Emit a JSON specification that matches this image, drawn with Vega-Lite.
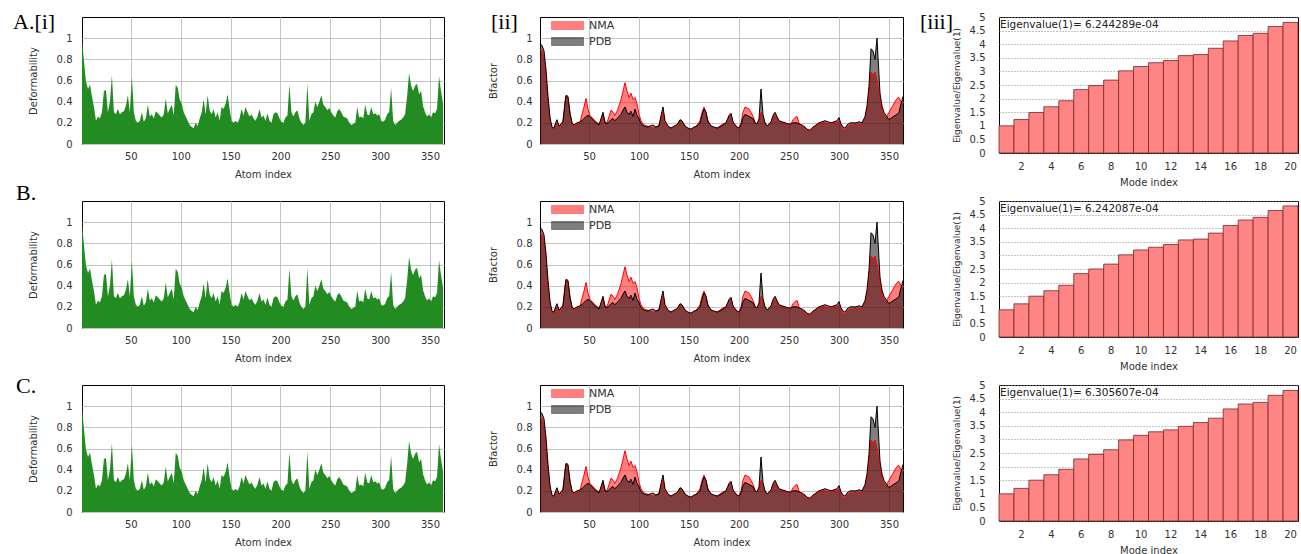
{
"$schema": "https://vega.github.io/schema/vega-lite/v6.json",
"background": "white",
"padding": {"left": 12, "top": 10, "right": 2, "bottom": 2},
"datasets": {
"def": [{"a":1,"v":1.0},{"a":3,"v":0.78},{"a":5,"v":0.59},{"a":7,"v":0.52},{"a":9,"v":0.56},{"a":11,"v":0.45},{"a":13,"v":0.35},{"a":15,"v":0.22},{"a":17,"v":0.26},{"a":19,"v":0.24},{"a":21,"v":0.3},{"a":23,"v":0.5},{"a":25,"v":0.51},{"a":27,"v":0.3},{"a":29,"v":0.4},{"a":31,"v":0.65},{"a":33,"v":0.3},{"a":35,"v":0.28},{"a":37,"v":0.33},{"a":39,"v":0.28},{"a":41,"v":0.3},{"a":43,"v":0.31},{"a":45,"v":0.36},{"a":47,"v":0.46},{"a":49,"v":0.3},{"a":51,"v":0.64},{"a":53,"v":0.3},{"a":55,"v":0.22},{"a":57,"v":0.2},{"a":59,"v":0.22},{"a":61,"v":0.3},{"a":63,"v":0.21},{"a":65,"v":0.24},{"a":67,"v":0.37},{"a":69,"v":0.26},{"a":71,"v":0.28},{"a":73,"v":0.24},{"a":75,"v":0.31},{"a":77,"v":0.29},{"a":79,"v":0.27},{"a":81,"v":0.25},{"a":83,"v":0.28},{"a":85,"v":0.43},{"a":87,"v":0.29},{"a":89,"v":0.33},{"a":91,"v":0.37},{"a":93,"v":0.27},{"a":95,"v":0.56},{"a":97,"v":0.53},{"a":99,"v":0.42},{"a":101,"v":0.38},{"a":103,"v":0.3},{"a":105,"v":0.26},{"a":107,"v":0.22},{"a":109,"v":0.18},{"a":111,"v":0.16},{"a":113,"v":0.15},{"a":115,"v":0.2},{"a":117,"v":0.17},{"a":119,"v":0.24},{"a":121,"v":0.3},{"a":123,"v":0.42},{"a":125,"v":0.28},{"a":127,"v":0.46},{"a":129,"v":0.32},{"a":131,"v":0.28},{"a":133,"v":0.33},{"a":135,"v":0.25},{"a":137,"v":0.3},{"a":139,"v":0.22},{"a":141,"v":0.35},{"a":143,"v":0.33},{"a":145,"v":0.38},{"a":147,"v":0.47},{"a":149,"v":0.33},{"a":151,"v":0.22},{"a":153,"v":0.2},{"a":155,"v":0.22},{"a":157,"v":0.2},{"a":159,"v":0.24},{"a":161,"v":0.33},{"a":163,"v":0.27},{"a":165,"v":0.35},{"a":167,"v":0.3},{"a":169,"v":0.26},{"a":171,"v":0.28},{"a":173,"v":0.24},{"a":175,"v":0.22},{"a":177,"v":0.26},{"a":179,"v":0.33},{"a":181,"v":0.25},{"a":183,"v":0.27},{"a":185,"v":0.22},{"a":187,"v":0.29},{"a":189,"v":0.22},{"a":191,"v":0.2},{"a":193,"v":0.28},{"a":195,"v":0.3},{"a":197,"v":0.29},{"a":199,"v":0.24},{"a":201,"v":0.21},{"a":203,"v":0.2},{"a":205,"v":0.25},{"a":207,"v":0.27},{"a":209,"v":0.56},{"a":211,"v":0.3},{"a":213,"v":0.26},{"a":215,"v":0.3},{"a":217,"v":0.32},{"a":219,"v":0.24},{"a":221,"v":0.2},{"a":223,"v":0.18},{"a":225,"v":0.2},{"a":227,"v":0.57},{"a":229,"v":0.22},{"a":231,"v":0.28},{"a":233,"v":0.3},{"a":235,"v":0.4},{"a":237,"v":0.35},{"a":239,"v":0.4},{"a":241,"v":0.46},{"a":243,"v":0.37},{"a":245,"v":0.35},{"a":247,"v":0.32},{"a":249,"v":0.34},{"a":251,"v":0.3},{"a":253,"v":0.27},{"a":255,"v":0.25},{"a":257,"v":0.31},{"a":259,"v":0.33},{"a":261,"v":0.3},{"a":263,"v":0.26},{"a":265,"v":0.25},{"a":267,"v":0.24},{"a":269,"v":0.2},{"a":271,"v":0.18},{"a":273,"v":0.19},{"a":275,"v":0.2},{"a":277,"v":0.35},{"a":279,"v":0.25},{"a":281,"v":0.26},{"a":283,"v":0.24},{"a":285,"v":0.37},{"a":287,"v":0.28},{"a":289,"v":0.27},{"a":291,"v":0.35},{"a":293,"v":0.28},{"a":295,"v":0.29},{"a":297,"v":0.27},{"a":299,"v":0.28},{"a":301,"v":0.22},{"a":303,"v":0.21},{"a":305,"v":0.23},{"a":307,"v":0.28},{"a":309,"v":0.3},{"a":311,"v":0.53},{"a":313,"v":0.22},{"a":315,"v":0.18},{"a":317,"v":0.2},{"a":319,"v":0.22},{"a":321,"v":0.23},{"a":323,"v":0.25},{"a":325,"v":0.28},{"a":327,"v":0.45},{"a":329,"v":0.67},{"a":331,"v":0.55},{"a":333,"v":0.5},{"a":335,"v":0.55},{"a":337,"v":0.57},{"a":339,"v":0.47},{"a":341,"v":0.5},{"a":343,"v":0.36},{"a":345,"v":0.3},{"a":347,"v":0.26},{"a":349,"v":0.28},{"a":351,"v":0.25},{"a":353,"v":0.3},{"a":355,"v":0.29},{"a":357,"v":0.33},{"a":359,"v":0.64},{"a":361,"v":0.5},{"a":363,"v":0.38}],
"bf": [
{"a":1,"s":"NMA","v":0.9},{"a":3,"s":"NMA","v":0.88},{"a":5,"s":"NMA","v":0.82},{"a":7,"s":"NMA","v":0.65},{"a":9,"s":"NMA","v":0.4},{"a":11,"s":"NMA","v":0.22},{"a":13,"s":"NMA","v":0.15},{"a":15,"s":"NMA","v":0.15},{"a":17,"s":"NMA","v":0.19},{"a":18,"s":"NMA","v":0.2},{"a":20,"s":"NMA","v":0.16},{"a":22,"s":"NMA","v":0.18},{"a":24,"s":"NMA","v":0.22},{"a":26,"s":"NMA","v":0.4},{"a":27,"s":"NMA","v":0.45},{"a":29,"s":"NMA","v":0.44},{"a":31,"s":"NMA","v":0.3},{"a":33,"s":"NMA","v":0.2},{"a":35,"s":"NMA","v":0.17},{"a":38,"s":"NMA","v":0.19},{"a":41,"s":"NMA","v":0.2},{"a":43,"s":"NMA","v":0.28},{"a":45,"s":"NMA","v":0.35},{"a":47,"s":"NMA","v":0.43},{"a":49,"s":"NMA","v":0.33},{"a":51,"s":"NMA","v":0.27},{"a":54,"s":"NMA","v":0.24},{"a":57,"s":"NMA","v":0.21},{"a":60,"s":"NMA","v":0.19},{"a":62,"s":"NMA","v":0.22},{"a":64,"s":"NMA","v":0.28},{"a":66,"s":"NMA","v":0.21},{"a":68,"s":"NMA","v":0.2},{"a":70,"s":"NMA","v":0.26},{"a":72,"s":"NMA","v":0.32},{"a":74,"s":"NMA","v":0.3},{"a":76,"s":"NMA","v":0.27},{"a":78,"s":"NMA","v":0.31},{"a":80,"s":"NMA","v":0.36},{"a":82,"s":"NMA","v":0.42},{"a":84,"s":"NMA","v":0.5},{"a":86,"s":"NMA","v":0.58},{"a":88,"s":"NMA","v":0.5},{"a":90,"s":"NMA","v":0.44},{"a":92,"s":"NMA","v":0.48},{"a":94,"s":"NMA","v":0.42},{"a":96,"s":"NMA","v":0.44},{"a":98,"s":"NMA","v":0.38},{"a":100,"s":"NMA","v":0.28},{"a":102,"s":"NMA","v":0.22},{"a":105,"s":"NMA","v":0.18},{"a":108,"s":"NMA","v":0.17},{"a":111,"s":"NMA","v":0.16},{"a":114,"s":"NMA","v":0.15},{"a":117,"s":"NMA","v":0.16},{"a":120,"s":"NMA","v":0.18},{"a":122,"s":"NMA","v":0.24},{"a":124,"s":"NMA","v":0.3},{"a":126,"s":"NMA","v":0.2},{"a":129,"s":"NMA","v":0.16},{"a":132,"s":"NMA","v":0.15},{"a":135,"s":"NMA","v":0.16},{"a":138,"s":"NMA","v":0.18},{"a":141,"s":"NMA","v":0.22},{"a":143,"s":"NMA","v":0.21},{"a":146,"s":"NMA","v":0.17},{"a":149,"s":"NMA","v":0.14},{"a":152,"s":"NMA","v":0.14},{"a":155,"s":"NMA","v":0.15},{"a":158,"s":"NMA","v":0.18},{"a":161,"s":"NMA","v":0.22},{"a":163,"s":"NMA","v":0.3},{"a":165,"s":"NMA","v":0.35},{"a":167,"s":"NMA","v":0.3},{"a":169,"s":"NMA","v":0.22},{"a":172,"s":"NMA","v":0.17},{"a":175,"s":"NMA","v":0.15},{"a":178,"s":"NMA","v":0.15},{"a":181,"s":"NMA","v":0.17},{"a":184,"s":"NMA","v":0.19},{"a":187,"s":"NMA","v":0.2},{"a":190,"s":"NMA","v":0.26},{"a":192,"s":"NMA","v":0.28},{"a":194,"s":"NMA","v":0.2},{"a":197,"s":"NMA","v":0.16},{"a":200,"s":"NMA","v":0.15},{"a":202,"s":"NMA","v":0.2},{"a":204,"s":"NMA","v":0.3},{"a":206,"s":"NMA","v":0.35},{"a":208,"s":"NMA","v":0.34},{"a":210,"s":"NMA","v":0.33},{"a":212,"s":"NMA","v":0.3},{"a":214,"s":"NMA","v":0.26},{"a":216,"s":"NMA","v":0.21},{"a":218,"s":"NMA","v":0.19},{"a":220,"s":"NMA","v":0.22},{"a":222,"s":"NMA","v":0.3},{"a":224,"s":"NMA","v":0.25},{"a":226,"s":"NMA","v":0.2},{"a":228,"s":"NMA","v":0.17},{"a":230,"s":"NMA","v":0.18},{"a":232,"s":"NMA","v":0.21},{"a":234,"s":"NMA","v":0.25},{"a":236,"s":"NMA","v":0.28},{"a":238,"s":"NMA","v":0.24},{"a":240,"s":"NMA","v":0.21},{"a":243,"s":"NMA","v":0.2},{"a":246,"s":"NMA","v":0.2},{"a":249,"s":"NMA","v":0.18},{"a":252,"s":"NMA","v":0.19},{"a":254,"s":"NMA","v":0.23},{"a":256,"s":"NMA","v":0.25},{"a":258,"s":"NMA","v":0.26},{"a":260,"s":"NMA","v":0.2},{"a":263,"s":"NMA","v":0.17},{"a":266,"s":"NMA","v":0.15},{"a":268,"s":"NMA","v":0.13},{"a":271,"s":"NMA","v":0.12},{"a":274,"s":"NMA","v":0.15},{"a":277,"s":"NMA","v":0.17},{"a":280,"s":"NMA","v":0.19},{"a":283,"s":"NMA","v":0.2},{"a":286,"s":"NMA","v":0.2},{"a":289,"s":"NMA","v":0.19},{"a":292,"s":"NMA","v":0.19},{"a":295,"s":"NMA","v":0.2},{"a":298,"s":"NMA","v":0.2},{"a":300,"s":"NMA","v":0.22},{"a":302,"s":"NMA","v":0.17},{"a":304,"s":"NMA","v":0.14},{"a":306,"s":"NMA","v":0.13},{"a":308,"s":"NMA","v":0.16},{"a":311,"s":"NMA","v":0.18},{"a":314,"s":"NMA","v":0.18},{"a":317,"s":"NMA","v":0.19},{"a":320,"s":"NMA","v":0.18},{"a":323,"s":"NMA","v":0.19},{"a":326,"s":"NMA","v":0.24},{"a":328,"s":"NMA","v":0.32},{"a":330,"s":"NMA","v":0.48},{"a":332,"s":"NMA","v":0.68},{"a":334,"s":"NMA","v":0.65},{"a":336,"s":"NMA","v":0.68},{"a":338,"s":"NMA","v":0.6},{"a":339,"s":"NMA","v":0.55},{"a":341,"s":"NMA","v":0.42},{"a":343,"s":"NMA","v":0.32},{"a":345,"s":"NMA","v":0.27},{"a":347,"s":"NMA","v":0.25},{"a":350,"s":"NMA","v":0.3},{"a":353,"s":"NMA","v":0.35},{"a":356,"s":"NMA","v":0.4},{"a":358,"s":"NMA","v":0.43},{"a":360,"s":"NMA","v":0.44},{"a":362,"s":"NMA","v":0.4},{"a":364,"s":"NMA","v":0.38},
{"a":1,"s":"PDB","v":0.95},{"a":3,"s":"PDB","v":0.93},{"a":5,"s":"PDB","v":0.88},{"a":7,"s":"PDB","v":0.7},{"a":9,"s":"PDB","v":0.45},{"a":11,"s":"PDB","v":0.25},{"a":13,"s":"PDB","v":0.16},{"a":15,"s":"PDB","v":0.15},{"a":17,"s":"PDB","v":0.21},{"a":18,"s":"PDB","v":0.23},{"a":20,"s":"PDB","v":0.17},{"a":22,"s":"PDB","v":0.19},{"a":24,"s":"PDB","v":0.21},{"a":26,"s":"PDB","v":0.38},{"a":27,"s":"PDB","v":0.46},{"a":29,"s":"PDB","v":0.45},{"a":31,"s":"PDB","v":0.28},{"a":33,"s":"PDB","v":0.2},{"a":35,"s":"PDB","v":0.18},{"a":38,"s":"PDB","v":0.2},{"a":41,"s":"PDB","v":0.21},{"a":43,"s":"PDB","v":0.22},{"a":45,"s":"PDB","v":0.24},{"a":47,"s":"PDB","v":0.26},{"a":49,"s":"PDB","v":0.27},{"a":51,"s":"PDB","v":0.26},{"a":54,"s":"PDB","v":0.23},{"a":57,"s":"PDB","v":0.2},{"a":60,"s":"PDB","v":0.18},{"a":62,"s":"PDB","v":0.24},{"a":64,"s":"PDB","v":0.3},{"a":66,"s":"PDB","v":0.2},{"a":68,"s":"PDB","v":0.19},{"a":70,"s":"PDB","v":0.21},{"a":72,"s":"PDB","v":0.23},{"a":74,"s":"PDB","v":0.24},{"a":76,"s":"PDB","v":0.22},{"a":78,"s":"PDB","v":0.24},{"a":80,"s":"PDB","v":0.26},{"a":82,"s":"PDB","v":0.28},{"a":84,"s":"PDB","v":0.32},{"a":86,"s":"PDB","v":0.35},{"a":88,"s":"PDB","v":0.3},{"a":90,"s":"PDB","v":0.28},{"a":92,"s":"PDB","v":0.31},{"a":94,"s":"PDB","v":0.26},{"a":96,"s":"PDB","v":0.33},{"a":98,"s":"PDB","v":0.27},{"a":100,"s":"PDB","v":0.24},{"a":102,"s":"PDB","v":0.19},{"a":105,"s":"PDB","v":0.17},{"a":108,"s":"PDB","v":0.16},{"a":111,"s":"PDB","v":0.17},{"a":114,"s":"PDB","v":0.18},{"a":117,"s":"PDB","v":0.16},{"a":120,"s":"PDB","v":0.17},{"a":122,"s":"PDB","v":0.27},{"a":124,"s":"PDB","v":0.35},{"a":126,"s":"PDB","v":0.22},{"a":129,"s":"PDB","v":0.17},{"a":132,"s":"PDB","v":0.15},{"a":135,"s":"PDB","v":0.17},{"a":138,"s":"PDB","v":0.18},{"a":141,"s":"PDB","v":0.23},{"a":143,"s":"PDB","v":0.22},{"a":146,"s":"PDB","v":0.17},{"a":149,"s":"PDB","v":0.15},{"a":152,"s":"PDB","v":0.14},{"a":155,"s":"PDB","v":0.16},{"a":158,"s":"PDB","v":0.17},{"a":161,"s":"PDB","v":0.2},{"a":163,"s":"PDB","v":0.27},{"a":165,"s":"PDB","v":0.33},{"a":167,"s":"PDB","v":0.3},{"a":169,"s":"PDB","v":0.21},{"a":172,"s":"PDB","v":0.17},{"a":175,"s":"PDB","v":0.16},{"a":178,"s":"PDB","v":0.15},{"a":181,"s":"PDB","v":0.16},{"a":184,"s":"PDB","v":0.18},{"a":187,"s":"PDB","v":0.2},{"a":190,"s":"PDB","v":0.27},{"a":192,"s":"PDB","v":0.29},{"a":194,"s":"PDB","v":0.21},{"a":197,"s":"PDB","v":0.17},{"a":200,"s":"PDB","v":0.15},{"a":202,"s":"PDB","v":0.18},{"a":204,"s":"PDB","v":0.25},{"a":206,"s":"PDB","v":0.28},{"a":208,"s":"PDB","v":0.27},{"a":210,"s":"PDB","v":0.26},{"a":212,"s":"PDB","v":0.25},{"a":214,"s":"PDB","v":0.24},{"a":216,"s":"PDB","v":0.2},{"a":218,"s":"PDB","v":0.19},{"a":220,"s":"PDB","v":0.24},{"a":222,"s":"PDB","v":0.52},{"a":224,"s":"PDB","v":0.28},{"a":226,"s":"PDB","v":0.2},{"a":228,"s":"PDB","v":0.17},{"a":230,"s":"PDB","v":0.19},{"a":232,"s":"PDB","v":0.21},{"a":234,"s":"PDB","v":0.27},{"a":236,"s":"PDB","v":0.3},{"a":238,"s":"PDB","v":0.26},{"a":240,"s":"PDB","v":0.22},{"a":243,"s":"PDB","v":0.21},{"a":246,"s":"PDB","v":0.2},{"a":249,"s":"PDB","v":0.19},{"a":252,"s":"PDB","v":0.19},{"a":254,"s":"PDB","v":0.2},{"a":256,"s":"PDB","v":0.2},{"a":258,"s":"PDB","v":0.2},{"a":260,"s":"PDB","v":0.19},{"a":263,"s":"PDB","v":0.18},{"a":266,"s":"PDB","v":0.16},{"a":268,"s":"PDB","v":0.14},{"a":271,"s":"PDB","v":0.13},{"a":274,"s":"PDB","v":0.16},{"a":277,"s":"PDB","v":0.18},{"a":280,"s":"PDB","v":0.2},{"a":283,"s":"PDB","v":0.21},{"a":286,"s":"PDB","v":0.22},{"a":289,"s":"PDB","v":0.21},{"a":292,"s":"PDB","v":0.2},{"a":295,"s":"PDB","v":0.21},{"a":298,"s":"PDB","v":0.22},{"a":300,"s":"PDB","v":0.25},{"a":302,"s":"PDB","v":0.19},{"a":304,"s":"PDB","v":0.16},{"a":306,"s":"PDB","v":0.15},{"a":308,"s":"PDB","v":0.18},{"a":311,"s":"PDB","v":0.2},{"a":314,"s":"PDB","v":0.2},{"a":317,"s":"PDB","v":0.2},{"a":320,"s":"PDB","v":0.21},{"a":323,"s":"PDB","v":0.2},{"a":326,"s":"PDB","v":0.26},{"a":328,"s":"PDB","v":0.36},{"a":330,"s":"PDB","v":0.55},{"a":332,"s":"PDB","v":0.9},{"a":334,"s":"PDB","v":0.88},{"a":336,"s":"PDB","v":0.8},{"a":338,"s":"PDB","v":1.0},{"a":339,"s":"PDB","v":0.82},{"a":341,"s":"PDB","v":0.48},{"a":343,"s":"PDB","v":0.36},{"a":345,"s":"PDB","v":0.3},{"a":347,"s":"PDB","v":0.27},{"a":350,"s":"PDB","v":0.23},{"a":353,"s":"PDB","v":0.25},{"a":356,"s":"PDB","v":0.27},{"a":358,"s":"PDB","v":0.28},{"a":360,"s":"PDB","v":0.3},{"a":362,"s":"PDB","v":0.38},{"a":364,"s":"PDB","v":0.45}],
"eA": [{"m":1,"r":1.0},{"m":2,"r":1.23},{"m":3,"r":1.49},{"m":4,"r":1.7},{"m":5,"r":1.92},{"m":6,"r":2.33},{"m":7,"r":2.48},{"m":8,"r":2.68},{"m":9,"r":3.02},{"m":10,"r":3.18},{"m":11,"r":3.32},{"m":12,"r":3.4},{"m":13,"r":3.58},{"m":14,"r":3.62},{"m":15,"r":3.85},{"m":16,"r":4.12},{"m":17,"r":4.32},{"m":18,"r":4.4},{"m":19,"r":4.65},{"m":20,"r":4.8}],
"eB": [{"m":1,"r":1.0},{"m":2,"r":1.22},{"m":3,"r":1.5},{"m":4,"r":1.7},{"m":5,"r":1.9},{"m":6,"r":2.33},{"m":7,"r":2.5},{"m":8,"r":2.68},{"m":9,"r":3.02},{"m":10,"r":3.2},{"m":11,"r":3.3},{"m":12,"r":3.4},{"m":13,"r":3.57},{"m":14,"r":3.6},{"m":15,"r":3.82},{"m":16,"r":4.1},{"m":17,"r":4.3},{"m":18,"r":4.4},{"m":19,"r":4.65},{"m":20,"r":4.82}],
"eC": [{"m":1,"r":1.0},{"m":2,"r":1.2},{"m":3,"r":1.5},{"m":4,"r":1.7},{"m":5,"r":1.9},{"m":6,"r":2.28},{"m":7,"r":2.45},{"m":8,"r":2.62},{"m":9,"r":2.98},{"m":10,"r":3.15},{"m":11,"r":3.28},{"m":12,"r":3.35},{"m":13,"r":3.48},{"m":14,"r":3.62},{"m":15,"r":3.78},{"m":16,"r":4.12},{"m":17,"r":4.3},{"m":18,"r":4.36},{"m":19,"r":4.62},{"m":20,"r":4.8}]
},
"columns": 3,
"align": "each",
"bounds": "flush",
"spacing": {"row": 48, "column": 96},
"concat": [
{"width": 362, "height": 127, "title": {"text": "A.[i]", "dx": -69, "dy": 21},
 "data": {"name": "def"},
 "mark": {"type": "area", "color": "#228B22"},
 "encoding": {
  "x": {"field": "a", "type": "quantitative", "scale": {"domain": [1, 364], "nice": false, "zero": false}, "axis": {"values": [50,100,150,200,250,300,350], "title": "Atom index", "labelPadding": 7, "titlePadding": 8}},
  "y": {"field": "v", "type": "quantitative", "scale": {"domain": [0, 1.2], "nice": false}, "axis": {"values": [0,0.2,0.4,0.6,0.8,1], "format": "~g", "title": "Deformability", "labelPadding": 10, "titlePadding": 18}}}},
{"width": 363, "height": 127, "title": {"text": "[ii]", "dx": -49, "dy": 21},
 "data": {"name": "bf"},
 "mark": {"type": "area", "fillOpacity": 0.5, "line": {"strokeWidth": 1}},
 "encoding": {
  "x": {"field": "a", "type": "quantitative", "scale": {"domain": [1, 364], "nice": false, "zero": false}, "axis": {"values": [50,100,150,200,250,300,350], "title": "Atom index", "labelPadding": 7, "titlePadding": 8}},
  "y": {"field": "v", "type": "quantitative", "stack": null, "scale": {"domain": [0, 1.2], "nice": false}, "axis": {"values": [0,0.2,0.4,0.6,0.8,1], "format": "~g", "title": "Bfactor", "labelPadding": 8, "titlePadding": 18}},
  "color": {"field": "s", "type": "nominal", "scale": {"domain": ["NMA", "PDB"], "range": ["#ff0000", "#000000"]}, "legend": {"title": null, "orient": "none", "legendX": 6, "legendY": 3, "padding": 0, "symbolType": "M0,-1H8V1H0Z", "symbolSize": 64, "symbolOpacity": 0.5, "symbolStrokeWidth": 1, "labelOffset": 32, "rowPadding": 3, "labelFont": "DejaVu Sans", "labelFontSize": 11, "labelColor": "#333"}}}},
{"width": 299, "height": 136, "title": {"text": "[iii]", "dx": -79, "dy": 26},
 "layer": [
  {"data": {"name": "eA"},
   "mark": {"type": "bar", "fill": "#ff8484", "stroke": "#7a2626", "strokeWidth": 0.8},
   "encoding": {
    "x": {"field": "m", "type": "ordinal", "scale": {"paddingInner": 0, "paddingOuter": 0}, "axis": {"values": [2,4,6,8,10,12,14,16,18,20], "labelAngle": 0, "grid": false, "title": "Mode index", "labelPadding": 8, "titlePadding": 6}},
    "y": {"field": "r", "type": "quantitative", "scale": {"domain": [0, 5], "nice": false}, "axis": {"values": [0,0.5,1,1.5,2,2.5,3,3.5,4,4.5,5], "format": "~g", "labelOverlap": false, "title": "Eigenvalue/Eigenvalue(1)", "titleFontSize": 9, "labelPadding": 14, "titlePadding": 8, "gridDash": [1, 2], "gridColor": "#888"}}}},
  {"data": {"values": [{"t": "Eigenvalue(1)= 6.244289e-04"}]},
   "mark": {"type": "text", "align": "left", "baseline": "middle", "font": "DejaVu Sans", "fontSize": 10.5, "color": "#222", "dx": 1},
   "encoding": {"x": {"datum": 1, "type": "ordinal", "bandPosition": 0, "axis": {"values": [2,4,6,8,10,12,14,16,18,20], "labelAngle": 0, "grid": false, "title": "Mode index", "labelPadding": 8, "titlePadding": 6}}, "y": {"datum": 4.72, "type": "quantitative", "axis": {"values": [0,0.5,1,1.5,2,2.5,3,3.5,4,4.5,5], "format": "~g", "labelOverlap": false, "title": "Eigenvalue/Eigenvalue(1)", "titleFontSize": 9, "labelPadding": 14, "titlePadding": 8, "gridDash": [1, 2], "gridColor": "#888"}}, "text": {"field": "t"}}}]},
{"width": 362, "height": 127, "title": {"text": "B.", "dx": -66, "dy": 8},
 "data": {"name": "def"},
 "mark": {"type": "area", "color": "#228B22"},
 "encoding": {
  "x": {"field": "a", "type": "quantitative", "scale": {"domain": [1, 364], "nice": false, "zero": false}, "axis": {"values": [50,100,150,200,250,300,350], "title": "Atom index", "labelPadding": 7, "titlePadding": 8}},
  "y": {"field": "v", "type": "quantitative", "scale": {"domain": [0, 1.2], "nice": false}, "axis": {"values": [0,0.2,0.4,0.6,0.8,1], "format": "~g", "title": "Deformability", "labelPadding": 10, "titlePadding": 18}}}},
{"width": 363, "height": 127,
 "data": {"name": "bf"},
 "mark": {"type": "area", "fillOpacity": 0.5, "line": {"strokeWidth": 1}},
 "encoding": {
  "x": {"field": "a", "type": "quantitative", "scale": {"domain": [1, 364], "nice": false, "zero": false}, "axis": {"values": [50,100,150,200,250,300,350], "title": "Atom index", "labelPadding": 7, "titlePadding": 8}},
  "y": {"field": "v", "type": "quantitative", "stack": null, "scale": {"domain": [0, 1.2], "nice": false}, "axis": {"values": [0,0.2,0.4,0.6,0.8,1], "format": "~g", "title": "Bfactor", "labelPadding": 8, "titlePadding": 18}},
  "color": {"field": "s", "type": "nominal", "scale": {"domain": ["NMA", "PDB"], "range": ["#ff0000", "#000000"]}, "legend": {"title": null, "orient": "none", "legendX": 6, "legendY": 3, "padding": 0, "symbolType": "M0,-1H8V1H0Z", "symbolSize": 64, "symbolOpacity": 0.5, "symbolStrokeWidth": 1, "labelOffset": 32, "rowPadding": 3, "labelFont": "DejaVu Sans", "labelFontSize": 11, "labelColor": "#333"}}}},
{"width": 299, "height": 136,
 "layer": [
  {"data": {"name": "eB"},
   "mark": {"type": "bar", "fill": "#ff8484", "stroke": "#7a2626", "strokeWidth": 0.8},
   "encoding": {
    "x": {"field": "m", "type": "ordinal", "scale": {"paddingInner": 0, "paddingOuter": 0}, "axis": {"values": [2,4,6,8,10,12,14,16,18,20], "labelAngle": 0, "grid": false, "title": "Mode index", "labelPadding": 8, "titlePadding": 6}},
    "y": {"field": "r", "type": "quantitative", "scale": {"domain": [0, 5], "nice": false}, "axis": {"values": [0,0.5,1,1.5,2,2.5,3,3.5,4,4.5,5], "format": "~g", "labelOverlap": false, "title": "Eigenvalue/Eigenvalue(1)", "titleFontSize": 9, "labelPadding": 14, "titlePadding": 8, "gridDash": [1, 2], "gridColor": "#888"}}}},
  {"data": {"values": [{"t": "Eigenvalue(1)= 6.242087e-04"}]},
   "mark": {"type": "text", "align": "left", "baseline": "middle", "font": "DejaVu Sans", "fontSize": 10.5, "color": "#222", "dx": 1},
   "encoding": {"x": {"datum": 1, "type": "ordinal", "bandPosition": 0, "axis": {"values": [2,4,6,8,10,12,14,16,18,20], "labelAngle": 0, "grid": false, "title": "Mode index", "labelPadding": 8, "titlePadding": 6}}, "y": {"datum": 4.72, "type": "quantitative", "axis": {"values": [0,0.5,1,1.5,2,2.5,3,3.5,4,4.5,5], "format": "~g", "labelOverlap": false, "title": "Eigenvalue/Eigenvalue(1)", "titleFontSize": 9, "labelPadding": 14, "titlePadding": 8, "gridDash": [1, 2], "gridColor": "#888"}}, "text": {"field": "t"}}}]},
{"width": 362, "height": 127, "title": {"text": "C.", "dx": -66, "dy": 17},
 "data": {"name": "def"},
 "mark": {"type": "area", "color": "#228B22"},
 "encoding": {
  "x": {"field": "a", "type": "quantitative", "scale": {"domain": [1, 364], "nice": false, "zero": false}, "axis": {"values": [50,100,150,200,250,300,350], "title": "Atom index", "labelPadding": 7, "titlePadding": 8}},
  "y": {"field": "v", "type": "quantitative", "scale": {"domain": [0, 1.2], "nice": false}, "axis": {"values": [0,0.2,0.4,0.6,0.8,1], "format": "~g", "title": "Deformability", "labelPadding": 10, "titlePadding": 18}}}},
{"width": 363, "height": 127,
 "data": {"name": "bf"},
 "mark": {"type": "area", "fillOpacity": 0.5, "line": {"strokeWidth": 1}},
 "encoding": {
  "x": {"field": "a", "type": "quantitative", "scale": {"domain": [1, 364], "nice": false, "zero": false}, "axis": {"values": [50,100,150,200,250,300,350], "title": "Atom index", "labelPadding": 7, "titlePadding": 8}},
  "y": {"field": "v", "type": "quantitative", "stack": null, "scale": {"domain": [0, 1.2], "nice": false}, "axis": {"values": [0,0.2,0.4,0.6,0.8,1], "format": "~g", "title": "Bfactor", "labelPadding": 8, "titlePadding": 18}},
  "color": {"field": "s", "type": "nominal", "scale": {"domain": ["NMA", "PDB"], "range": ["#ff0000", "#000000"]}, "legend": {"title": null, "orient": "none", "legendX": 6, "legendY": 3, "padding": 0, "symbolType": "M0,-1H8V1H0Z", "symbolSize": 64, "symbolOpacity": 0.5, "symbolStrokeWidth": 1, "labelOffset": 32, "rowPadding": 3, "labelFont": "DejaVu Sans", "labelFontSize": 11, "labelColor": "#333"}}}},
{"width": 299, "height": 136,
 "layer": [
  {"data": {"name": "eC"},
   "mark": {"type": "bar", "fill": "#ff8484", "stroke": "#7a2626", "strokeWidth": 0.8},
   "encoding": {
    "x": {"field": "m", "type": "ordinal", "scale": {"paddingInner": 0, "paddingOuter": 0}, "axis": {"values": [2,4,6,8,10,12,14,16,18,20], "labelAngle": 0, "grid": false, "title": "Mode index", "labelPadding": 8, "titlePadding": 6}},
    "y": {"field": "r", "type": "quantitative", "scale": {"domain": [0, 5], "nice": false}, "axis": {"values": [0,0.5,1,1.5,2,2.5,3,3.5,4,4.5,5], "format": "~g", "labelOverlap": false, "title": "Eigenvalue/Eigenvalue(1)", "titleFontSize": 9, "labelPadding": 14, "titlePadding": 8, "gridDash": [1, 2], "gridColor": "#888"}}}},
  {"data": {"values": [{"t": "Eigenvalue(1)= 6.305607e-04"}]},
   "mark": {"type": "text", "align": "left", "baseline": "middle", "font": "DejaVu Sans", "fontSize": 10.5, "color": "#222", "dx": 1},
   "encoding": {"x": {"datum": 1, "type": "ordinal", "bandPosition": 0, "axis": {"values": [2,4,6,8,10,12,14,16,18,20], "labelAngle": 0, "grid": false, "title": "Mode index", "labelPadding": 8, "titlePadding": 6}}, "y": {"datum": 4.72, "type": "quantitative", "axis": {"values": [0,0.5,1,1.5,2,2.5,3,3.5,4,4.5,5], "format": "~g", "labelOverlap": false, "title": "Eigenvalue/Eigenvalue(1)", "titleFontSize": 9, "labelPadding": 14, "titlePadding": 8, "gridDash": [1, 2], "gridColor": "#888"}}, "text": {"field": "t"}}}]}
],
"resolve": {"scale": {"color": "independent"}},
"config": {
 "view": {"stroke": "#000", "strokeWidth": 1},
 "axis": {"labelFont": "DejaVu Sans", "labelFontSize": 10, "labelColor": "#333", "titleFont": "DejaVu Sans", "titleFontSize": 10, "titleFontWeight": "normal", "titleColor": "#333", "gridColor": "#c4c4c4", "ticks": false, "domain": false},
 "title": {"font": "Liberation Serif", "fontSize": 22, "fontWeight": "normal", "anchor": "start", "frame": "group", "baseline": "alphabetic", "offset": 0, "color": "#000"}
}
}
